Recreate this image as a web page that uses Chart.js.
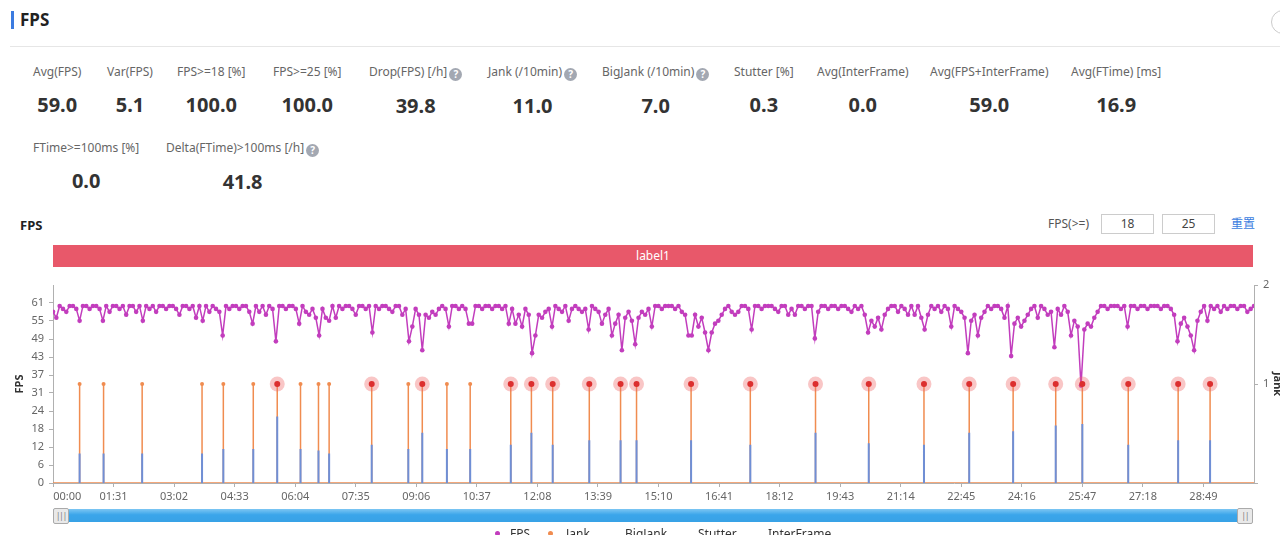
<!DOCTYPE html>
<html><head><meta charset="utf-8">
<script src="https://cdn.jsdelivr.net/npm/chart.js@4.4.1/dist/chart.umd.min.js"></script>
<style>
html,body{margin:0;padding:0;background:#fff;width:1280px;height:535px;overflow:hidden;font-family:"Noto Sans","Noto Sans CJK SC",sans-serif;}
.abs{position:absolute;}
.stat{position:absolute;white-space:nowrap;}
.stat .lab{font-size:12px;line-height:16px;color:#666;}
.stat .val{font-size:20px;line-height:24px;font-weight:bold;color:#333;text-align:center;margin-top:13px;}
.help{display:inline-block;width:13px;height:13px;border-radius:50%;background:#a3a8b2;color:#fff;font-size:10px;line-height:13px;text-align:center;font-weight:bold;margin-left:2px;vertical-align:-2px;}
.inp{position:absolute;top:214px;width:51px;height:18px;border:1px solid #ccc;font-size:12px;line-height:18px;text-align:center;color:#444;}
.handle{position:absolute;top:508px;width:14px;height:14px;background:#e9e9e9;border:1px solid #aaa;border-radius:2px;font-size:8px;line-height:14px;text-align:center;color:#777;letter-spacing:-1px;}
.leg{position:absolute;top:526px;font-size:12px;line-height:16px;color:#333;white-space:nowrap;}
.dot{position:absolute;top:531px;width:5px;height:5px;border-radius:50%;}
</style></head><body>
<div class="abs" style="left:11px;top:11px;width:3px;height:18px;background:#3c7be0;"></div>
<div class="abs" style="left:20px;top:8px;font-size:17px;line-height:24px;font-weight:bold;color:#222;">FPS</div>
<div class="abs" style="left:1271px;top:10px;width:22px;height:22px;border:1px solid #ccc;border-radius:50%;"></div>
<div class="abs" style="left:10px;top:46px;width:1270px;height:1px;background:#e6e6e6;"></div>
<div id="stats"></div>
<div class="abs" style="left:20px;top:216px;font-size:13px;line-height:18px;font-weight:bold;color:#222;">FPS</div>
<div class="abs" style="left:1048px;top:215px;font-size:12px;line-height:18px;color:#555;">FPS(&gt;=)</div>
<div class="inp" style="left:1101px;">18</div>
<div class="inp" style="left:1162px;">25</div>
<div class="abs" style="left:1231px;top:215px;font-size:12px;line-height:18px;color:#3b7de0;">重置</div>
<div class="abs" style="left:53px;top:245px;width:1200px;height:22px;background:#e8586a;color:#fff;font-size:12px;line-height:22px;text-align:center;">label1</div>
<canvas id="c" width="1280" height="265" class="abs" style="left:0;top:270px;"></canvas>
<div class="abs" style="left:53px;top:509px;width:1200px;height:13px;background:linear-gradient(#7cc6f3,#3aa5ea 45%,#38a2e6);"></div>
<div class="handle" style="left:53px;">|||</div>
<div class="handle" style="left:1237px;">||</div>
<div id="legend"></div>
<script>
// ---- summary stats ----
const statLabels = ['Avg(FPS)','Var(FPS)','FPS>=18 [%]','FPS>=25 [%]','Drop(FPS) [/h]','Jank (/10min)','BigJank (/10min)','Stutter [%]','Avg(InterFrame)','Avg(FPS+InterFrame)','Avg(FTime) [ms]','FTime>=100ms [%]','Delta(FTime)>100ms [/h]'];
const statValues = ['59.0','5.1','100.0','100.0','39.8','11.0','7.0','0.3','0.0','59.0','16.9','0.0','41.8'];
const statHelp = [0,0,0,0,1,1,1,0,0,0,0,0,1];

// ---- chart data ----
const xTickLabels = ['00:00','01:31','03:02','04:33','06:04','07:35','09:06','10:37','12:08','13:39','15:10','16:41','18:12','19:43','21:14','22:45','24:16','25:47','27:18','28:49'];
const xTickStep = 91;
const xMax = 1805;
const yTickLabels = ['0','6','12','18','24','31','37','43','49','55','61'];
const yTickStep = 6.1;
const yMax = 67.1;
const y2TickValues = [0,1,2];
const y2TickLabels = ['','1','2'];
const fpsStep = 5;
const fpsValues = [
58,56,60,59,58,60,60,59,55,60,60,59,60,60,59,55,60,58,60,60,
59,60,57,60,60,58,60,55,60,59,60,58,60,60,59,60,60,59,57,60,
60,59,60,56,60,55,60,58,60,59,58,50,60,59,60,60,59,60,60,58,
54,60,58,60,57,60,59,48,60,60,59,60,60,59,54,60,58,57,59,56,
50,59,56,55,60,56,60,59,60,60,59,57,60,60,59,60,51,60,59,60,
60,59,58,60,60,57,59,48,53,59,57,45,57,56,58,57,59,60,59,53,
60,60,59,60,59,54,54,60,60,59,60,60,59,60,60,59,60,54,59,54,
57,53,59,57,44,50,57,56,58,59,53,60,59,58,60,55,59,60,59,58,
59,52,60,59,58,54,57,59,50,54,57,45,56,58,55,47,56,58,57,59,
53,60,60,59,60,60,60,59,60,58,57,50,50,57,53,56,51,45,51,54,
55,57,59,60,58,57,58,60,60,59,52,60,60,59,60,60,60,59,58,60,
60,57,59,57,60,60,59,60,60,49,58,60,60,59,60,60,59,60,60,59,
58,60,59,60,57,51,55,53,56,52,57,59,60,60,58,60,59,57,60,57,
60,56,52,57,60,59,60,58,60,59,53,60,59,58,56,44,55,57,50,56,
58,60,59,60,60,59,56,60,43,54,56,53,55,57,59,60,56,60,59,57,
58,46,59,57,60,58,50,55,53,33,52,54,53,56,58,60,60,59,60,60,
60,59,60,53,60,60,59,60,60,59,60,60,60,59,60,60,59,57,48,54,
56,53,50,45,55,58,60,55,60,59,60,58,60,59,60,60,59,60,60,58,
59,60];
const jankTimes = [40,76,134,224,256,301,337,372,399,415,479,534,555,592,627,688,719,751,806,853,877,959,1048,1146,1226,1309,1377,1443,1507,1547,1616,1691,1739];
const stutterValues = [10,10,10,10,11.5,11.5,22.5,11.5,11,10,13,11.5,17,11.5,11.5,13,17,13,14.5,14.5,14.5,14.5,13,17,13.5,13,17,17.5,19.5,20,13,14.5,14.5];
const bigJankTimes = [337,479,555,688,719,751,806,853,877,959,1048,1146,1226,1309,1377,1443,1507,1547,1616,1691,1739];
const legendLabels = ['FPS','Jank','BigJank','Stutter','InterFrame'];

// ---- stats layout ----
const statPos = [[33,64],[107,64],[177,64],[273,64],[369,64],[488,64],[602,64],[734,64],[817,64],[930,64],[1071,64],[33,140],[166,140]];
const statsEl = document.getElementById('stats');
statLabels.forEach((l,i)=>{
  const d = document.createElement('div');
  d.className='stat';
  d.style.left = statPos[i][0]+'px'; d.style.top = statPos[i][1]+'px';
  const lab = document.createElement('div'); lab.className='lab'; lab.textContent = l;
  if (statHelp[i]) { const h=document.createElement('span'); h.className='help'; h.textContent='?'; lab.appendChild(h); }
  const v = document.createElement('div'); v.className='val'; v.textContent = statValues[i];
  d.appendChild(lab); d.appendChild(v); statsEl.appendChild(d);
});

// ---- legend ----
const legColors = ['#c23dbd','#f08c50',null,null,null];
const legPos = [510,566,625,698,768];
const legDot = [497,550,0,0,0];
const legEl = document.getElementById('legend');
legendLabels.forEach((l,i)=>{
  const t=document.createElement('div'); t.className='leg'; t.style.left=legPos[i]+'px'; t.textContent=l; legEl.appendChild(t);
  if (legColors[i]) { const d=document.createElement('div'); d.className='dot'; d.style.left=(legDot[i]-2)+'px'; d.style.background=legColors[i]; legEl.appendChild(d); }
});

// ---- build series ----
const fpsData = fpsValues.map((v,i)=>({x:i*fpsStep,y:v}));
const jankData = [{x:0,y:0}];
jankTimes.forEach(t=>{ jankData.push({x:t,y:0},{x:t,y:1},{x:t,y:0}); });
jankData.push({x:xMax,y:0});
const stutterData = [];
jankTimes.forEach((t,i)=>{ stutterData.push({x:t,y:0},{x:t,y:stutterValues[i]},{x:t,y:null}); });
const bigJankData = bigJankTimes.map(t=>({x:t,y:1}));

Chart.defaults.font.family = '"Noto Sans", sans-serif';
const axisColor = '#b0b0b0';
new Chart(document.getElementById('c'), {
  type:'line',
  data:{datasets:[
    {label:'BigJank', data:bigJankData, yAxisID:'y2', showLine:false, pointRadius:3, pointBackgroundColor:'#dc2f2f', pointBorderWidth:0, borderColor:'#dc2f2f'},
    {label:'BigJankHalo', data:bigJankData, yAxisID:'y2', showLine:false, pointRadius:7.5, pointBackgroundColor:'rgba(240,105,105,0.38)', pointBorderWidth:0, borderColor:'transparent'},
    {label:'FPS', data:fpsData, yAxisID:'y', borderColor:'#c23dbd', borderWidth:1.5, pointRadius:2.3, pointBackgroundColor:'#c23dbd', pointBorderWidth:0, tension:0},
    {label:'Stutter', data:stutterData, yAxisID:'y', borderColor:'#6f8fd6', borderWidth:2, pointRadius:0, spanGaps:false},
    {label:'Jank', data:jankData, yAxisID:'y2', borderColor:'#f08c50', borderWidth:1.5, pointRadius:(c)=> (c.raw && c.raw.y===1) ? 2 : 0, pointBackgroundColor:'#f08c50', pointBorderWidth:0}
  ]},
  options:{
    responsive:false, animation:false, devicePixelRatio:1,
    layout:{padding:{top:15,left:0,right:0,bottom:0}},
    plugins:{legend:{display:false}, tooltip:{enabled:false}},
    scales:{
      x:{type:'linear', min:0, max:xMax,
        afterBuildTicks:(s)=>{ s.ticks = xTickLabels.map((l,i)=>({value:i*xTickStep})); },
        ticks:{autoSkip:false, maxRotation:0, color:'#666', font:{size:11}, padding:3,
          callback:(v,i)=> i===0 ? '          '+xTickLabels[0] : xTickLabels[i]},
        grid:{drawOnChartArea:false, tickLength:4, color:axisColor},
        border:{color:axisColor},
        afterFit:(s)=>{ s.height = 52; }
      },
      y:{position:'left', min:0, max:yMax,
        afterBuildTicks:(s)=>{ s.ticks = yTickLabels.map((l,i)=>({value:i*yTickStep})); },
        ticks:{color:'#666', font:{size:11}, padding:5, callback:(v,i)=>yTickLabels[i]},
        title:{display:true, text:'FPS', color:'#333', font:{size:11, weight:'bold'}, padding:{top:13,bottom:0}},
        grid:{drawOnChartArea:false, tickLength:4, color:axisColor},
        border:{color:axisColor},
        afterFit:(s)=>{ s.width = 53; }
      },
      y2:{position:'right', min:0, max:2,
        afterBuildTicks:(s)=>{ s.ticks = y2TickValues.map(v=>({value:v})); },
        ticks:{color:'#666', font:{size:11}, padding:5, callback:(v,i)=>y2TickLabels[i]},
        title:{display:true, text:'Jank', color:'#333', font:{size:11, weight:'bold'}, padding:{top:-4,bottom:0}},
        grid:{drawOnChartArea:false, tickLength:4, color:axisColor},
        border:{color:axisColor},
        afterFit:(s)=>{ s.width = 26; }
      }
    }
  }
});
</script>
</body></html>
